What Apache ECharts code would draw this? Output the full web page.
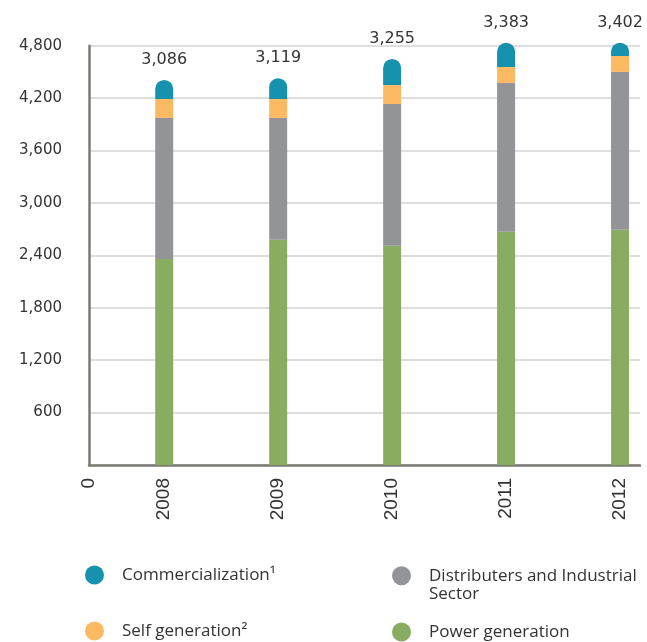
<!DOCTYPE html>
<html>
<head>
<meta charset="utf-8">
<script src="https://cdn.jsdelivr.net/npm/echarts@6/dist/echarts.min.js"></script>
<style>html,body{margin:0;padding:0;background:#fff}#c{width:647px;height:642px}</style>
</head>
<body>
<div id="c"></div>
<script>
const years = [2008, 2009, 2010, 2011, 2012];
const totals = ['3,086', '3,119', '3,255', '3,383', '3,402'];
const powerGeneration = [2359, 2580, 2511, 2671, 2694];
const distributers = [1614, 1393, 1622, 1703, 1806];
const selfGeneration = [218, 218, 218, 183, 183];
const commercialization = [217, 237, 298, 278, 152];
const yTicks = [0, 600, 1200, 1800, 2400, 3000, 3600, 4200, 4800];

const names = {
  c: 'Commercialization\u00B9',
  d: 'Distributers and Industrial Sector',
  s: 'Self generation\u00B2',
  p: 'Power generation'
};
const colors = { c: '#1691ae', d: '#939497', s: '#fbb962', p: '#88ad61' };

const xMin = 2007.34, xMax = 2012.175;
// value first so the stack is computed on the y dimension
const pairs = arr => arr.map((v, i) => [v, years[i]]);

function bar(key, data, extra) {
  return Object.assign({
    name: names[key], type: 'bar', stack: 'total', data: pairs(data),
    encode: { x: 1, y: 0 },
    barWidth: 18, clip: false,
    itemStyle: { color: colors[key] }
  }, extra || {});
}

function legend(key, left, top) {
  return {
    data: [names[key]], left: left, top: top, icon: 'circle', padding: 0,
    itemWidth: 19, itemHeight: 19, itemGap: 0, selectedMode: false,
    formatter: n => n === names.d ? '\nDistributers and Industrial\nSector' : n,
    textStyle: {
      color: '#333', fontFamily: 'Open Sans', fontSize: 17, lineHeight: 18.5,
      padding: [0, 0, 0, 13]
    }
  };
}

const chart = echarts.init(document.getElementById('c'));
chart.setOption({
  animation: false,
  grid: { left: 89, right: 7, top: 45.7, bottom: 177, containLabel: false },
  xAxis: {
    type: 'value', min: xMin, max: xMax,
    axisLine: { show: true, lineStyle: { color: '#7b7b73', width: 2.5 } },
    axisTick: { show: false },
    splitLine: { show: false },
    axisLabel: {
      customValues: [xMin].concat(years),
      rotate: 90, margin: 13, color: '#333',
      fontFamily: 'Liberation Sans', fontSize: 19,
      formatter: v => (v < years[0] ? '0' : String(Math.round(v)))
    }
  },
  yAxis: {
    type: 'value', min: yTicks[0], max: yTicks[yTicks.length - 1], interval: 600,
    axisLine: { show: true, lineStyle: { color: '#7b7b73', width: 2.5 } },
    axisTick: { show: false },
    splitLine: { show: true, lineStyle: { color: '#d3d3d3', width: 1.5 } },
    axisLabel: {
      margin: 27, color: '#333', fontFamily: 'DejaVu Sans', fontSize: 15,
      formatter: v => (v === 0 ? '' : v.toLocaleString('en-US'))
    }
  },
  legend: [
    legend('c', 85, 565.5),
    legend('s', 85, 621.5),
    legend('d', 392, 566.5 - 18.5),
    legend('p', 392, 622.5)
  ],
  series: [
    bar('p', powerGeneration),
    bar('d', distributers),
    bar('s', selfGeneration),
    bar('c', commercialization, {
      itemStyle: { color: colors.c, borderRadius: [9, 9, 0, 0] },
      label: {
        show: true, position: 'top', distance: 12, color: '#333',
        fontFamily: 'DejaVu Sans', fontSize: 16,
        formatter: p => totals[p.dataIndex]
      }
    })
  ]
});
</script>
</body>
</html>
